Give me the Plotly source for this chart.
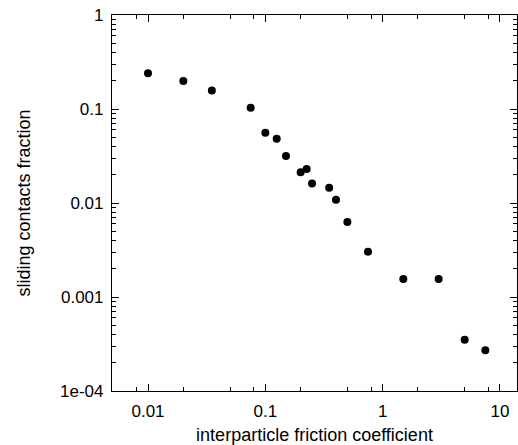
import plotly.graph_objects as go

friction = [0.01, 0.02, 0.035, 0.075, 0.1, 0.125, 0.15, 0.2, 0.225, 0.25, 0.35, 0.4, 0.5,
            0.75, 1.5, 3.0, 5.0, 7.5]
sliding_fraction = [0.240, 0.199, 0.157, 0.103, 0.056, 0.0483, 0.0316, 0.0212, 0.0230, 0.0161,
                    0.01455, 0.01084, 0.00628, 0.00303, 0.00155, 0.00155, 0.000351, 0.000271]

x_tickvals = [0.01, 0.1, 1, 10]
x_ticktext = ["0.01", "0.1", "1", "10"]
y_tickvals = [1, 0.1, 0.01, 0.001, 0.0001]
y_ticktext = ["1", "0.1", "0.01", "0.001", "1e-04"]

x_minor = [m * 10.0 ** e for e in range(-3, 2) for m in (2, 5, 8)]
y_minor = [m * 10.0 ** e for e in range(-4, 0) for m in range(2, 10)]

font = dict(family="Liberation Sans, Arial, sans-serif", size=17, color="black")
title_font = dict(family="Liberation Sans, Arial, sans-serif", size=18, color="black")

X_RANGE = [-2.307, 1.145]
Y_RANGE = [-4, 0]

fig = go.Figure()
fig.add_trace(go.Scatter(x=friction, y=sliding_fraction, mode="markers",
                         marker=dict(color="black", size=8), showlegend=False,
                         cliponaxis=False, hoverinfo="x+y"))
# invisible copy bound to the mirror axes (top / right) so their ticks are drawn
fig.add_trace(go.Scatter(x=friction, y=sliding_fraction, mode="markers", xaxis="x2", yaxis="y2",
                         marker=dict(color="black", size=8, opacity=0), showlegend=False,
                         hoverinfo="skip"))

axis_common = dict(type="log", showgrid=False, zeroline=False, showline=True,
                   linecolor="black", linewidth=1.2, ticks="inside",
                   ticklen=7, tickwidth=1.2, tickcolor="black", tickfont=font,
                   automargin=False, ticklabeloverflow="allow")

x_minor_cfg = dict(tickmode="array", tickvals=x_minor, ticks="inside", ticklen=4,
                   tickwidth=1.2, tickcolor="black", showgrid=False)
y_minor_cfg = dict(tickmode="array", tickvals=y_minor, ticks="inside", ticklen=4,
                   tickwidth=1.2, tickcolor="black", showgrid=False)

fig.update_layout(
    xaxis=dict(**axis_common, range=X_RANGE, tickmode="array",
               tickvals=x_tickvals, ticktext=x_ticktext, ticklabelstandoff=4,
               minor=x_minor_cfg,
               title=dict(text="interparticle friction coefficient", font=title_font, standoff=11)),
    yaxis=dict(**axis_common, range=Y_RANGE, tickmode="array",
               tickvals=y_tickvals, ticktext=y_ticktext, ticklabelstandoff=4,
               minor=y_minor_cfg,
               title=dict(text="sliding contacts fraction", font=title_font, standoff=24)),
    xaxis2=dict(**axis_common, range=X_RANGE, tickmode="array", tickvals=x_tickvals,
                showticklabels=False, minor=x_minor_cfg, overlaying="x", side="top",
                anchor="y2"),
    yaxis2=dict(**axis_common, range=Y_RANGE, tickmode="array", tickvals=y_tickvals,
                showticklabels=False, minor=y_minor_cfg, overlaying="y", side="right",
                anchor="x2"),
)

fig.update_layout(width=518, height=445, margin=dict(l=112, r=1, t=15, b=54, autoexpand=False),
                  plot_bgcolor="white", paper_bgcolor="white", font=font)

# remove the default 8px page margin so the 518x445 figure fills the window exactly
fig.write_html("out.html", config={"displayModeBar": False},
               post_script="document.body.style.margin='0px';")
